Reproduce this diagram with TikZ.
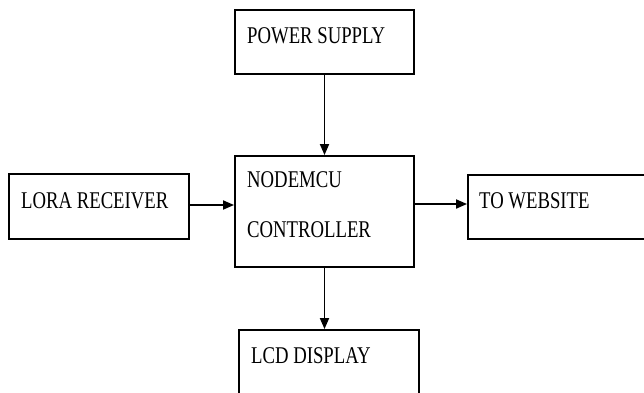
\documentclass[tikz,border=0pt]{standalone}
\usepackage{fontspec}
\setmainfont{Liberation Serif}[FakeStretch=0.78]
\usetikzlibrary{arrows.meta}

\begin{document}
\begin{tikzpicture}[
  x=1pt, y=-1pt,
  blk/.style={draw=black, line width=1.9pt, minimum width=#1,
    inner sep=0pt, rectangle},
  txt/.style={anchor=base west, inner sep=0pt,
    font=\fontsize{24}{28}\selectfont},
  arr/.style={-{Triangle[length=11pt,width=9pt]}, line width=1.8pt}
]
  \useasboundingbox (0,0) rectangle (644,392);
  \clip (0,0) rectangle (644,392);

  \node[blk=179pt, minimum height=64pt]  (pwr)  at (324.5,42)  {};
  \node[blk=180pt, minimum height=65pt]  (lora) at (99,206.5)  {};
  \node[blk=179pt, minimum height=111pt] (ctrl) at (324.5,211.5) {};
  \node[blk=192pt, minimum height=64pt]  (web)  at (564,207)   {};
  \node[blk=180pt, minimum height=70pt]  (lcd)  at (329,365)   {};

  \node[txt] (pwr-t)   at (247,43)  {POWER SUPPLY};
  \node[txt] (lora-t)  at (21,208)  {LORA RECEIVER};
  \node[txt] (ctrl-t1) at (247,187) {NODEMCU};
  \node[txt] (ctrl-t2) at (247,237) {CONTROLLER};
  \node[txt] (web-t)   at (479,208) {TO WEBSITE};
  \node[txt] (lcd-t)   at (251,363) {LCD DISPLAY};

  \draw[arr] (pwr) -- (ctrl);
  \draw[arr] (lora.east |- 0,205) -- (ctrl.west |- 0,205);
  \draw[arr] (ctrl.east |- 0,204) -- (web.west |- 0,204);
  \draw[arr] (ctrl.south) -- (ctrl.south |- lcd.north);
\end{tikzpicture}
\end{document}
